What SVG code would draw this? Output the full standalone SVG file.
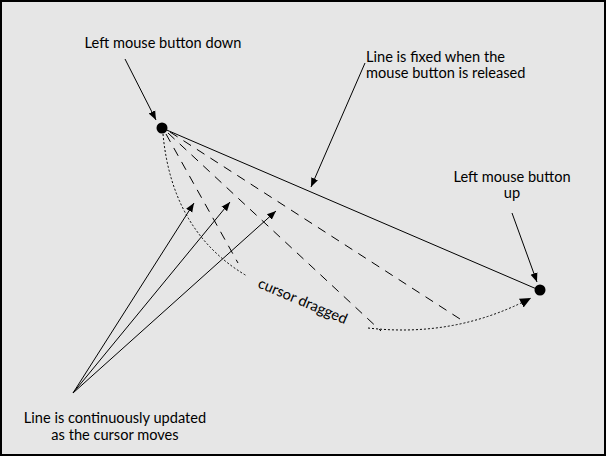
<svg xmlns="http://www.w3.org/2000/svg" width="606" height="456" viewBox="0 0 606 456">
<defs>
<marker id="ah" viewBox="0 0 10 10" refX="10" refY="5" markerWidth="9" markerHeight="9" markerUnits="userSpaceOnUse" orient="auto">
<path d="M0,1 L10,5 L0,9 Z" fill="#000"/>
</marker>
<marker id="ah2" viewBox="0 0 10 10" refX="10" refY="5" markerWidth="11" markerHeight="11" markerUnits="userSpaceOnUse" orient="auto">
<path d="M0,0.5 L10,5 L0,9.5 Z" fill="#000"/>
</marker>
</defs>
<style>
text{font-family:Lato,"Open Sans",sans-serif;font-size:14.6px;fill:#000}
.arr{stroke:#000;stroke-width:1;fill:none;marker-end:url(#ah)}
.dash{stroke:#000;stroke-width:1;fill:none;stroke-dasharray:9,7}
.dot{stroke:#000;stroke-width:1;fill:none;stroke-dasharray:2,2}
</style>
<rect x="1" y="1" width="604" height="454" fill="#e6e6e6" stroke="#000" stroke-width="2"/>
<g id="connectors">
<line x1="162" y1="128" x2="539" y2="290" stroke="#000" stroke-width="1"/>
<line class="dash" x1="166" y1="134" x2="238" y2="263"/>
<line class="dash" x1="168" y1="133" x2="381" y2="331"/>
<line class="dash" x1="170" y1="132" x2="460" y2="319"/>
<path class="dot" d="M163,134 Q172,232 247,276"/>
<path class="dot" d="M368,328 Q455,338 531,298" marker-end="url(#ah2)"/>
<line class="arr" x1="125" y1="59" x2="156" y2="120"/>
<line class="arr" x1="365" y1="63" x2="311" y2="187"/>
<line class="arr" x1="512" y1="213" x2="537" y2="282"/>
<line class="arr" x1="73" y1="393" x2="194" y2="203"/>
<line class="arr" x1="73" y1="393" x2="230" y2="202"/>
<line class="arr" x1="73" y1="393" x2="276" y2="211"/>
</g>
<g id="start"><circle cx="162" cy="128" r="5.5" fill="#000"/></g>
<g id="end"><circle cx="540" cy="290" r="5.5" fill="#000"/></g>
<g id="label-down"><text x="163" y="48" text-anchor="middle">Left mouse button down</text></g>
<g id="label-fixed"><text x="366" y="62">Line is fixed when the</text><text x="366" y="78">mouse button is released</text></g>
<g id="label-up"><text x="512" y="182" text-anchor="middle">Left mouse button</text><text x="512" y="198" text-anchor="middle">up</text></g>
<g id="label-updated"><text x="115" y="423" text-anchor="middle">Line is continuously updated</text><text x="115" y="440" text-anchor="middle">as the cursor moves</text></g>
<g id="label-dragged"><text x="0" y="0" transform="translate(257,287) rotate(23)">cursor dragged</text></g>
</svg>
